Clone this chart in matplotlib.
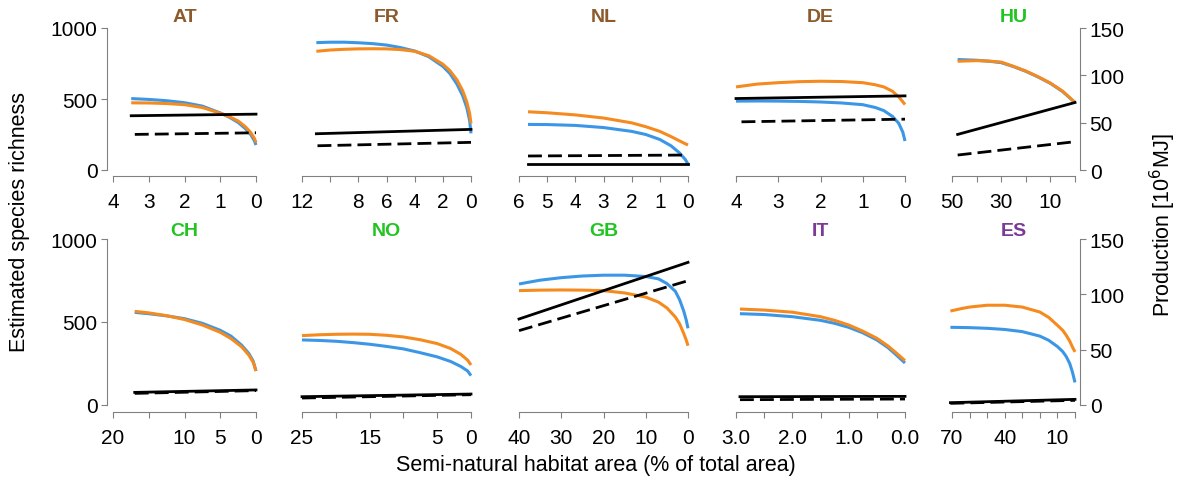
import matplotlib
matplotlib.use('Agg')
import matplotlib.pyplot as plt

plt.rcParams['font.family'] = ['Liberation Sans', 'DejaVu Sans']

# species richness curves (x = % semi-natural habitat, blue / orange) and production lines
countries = ['AT', 'FR', 'NL', 'DE', 'HU', 'CH', 'NO', 'GB', 'IT', 'ES']

AT_x = [3.49, 3.0, 2.5, 2.0, 1.5, 1.0, 0.75, 0.5, 0.3, 0.15, 0.05, 0.0]
AT_blue = [503, 497, 488, 474, 450, 402, 372, 335, 292, 250, 208, 176]
AT_orange = [473, 472, 468, 460, 440, 400, 376, 345, 305, 265, 225, 194]
AT_solid_x, AT_solid = [3.49, 0], [57.3, 59.0]
AT_dash_x, AT_dash = [3.39, 0], [37.6, 39.3]

FR_x = [10.98, 10, 9, 8, 7, 6, 5, 4, 3, 2, 1.5, 1, 0.6, 0.3, 0.1, 0]
FR_blue = [897, 900, 900, 896, 890, 880, 862, 838, 798, 730, 680, 605, 525, 440, 350, 258]
FR_orange = [836, 845, 850, 853, 854, 853, 848, 836, 805, 745, 700, 635, 560, 480, 400, 328]
FR_solid_x, FR_solid = [10.98, 0], [38.3, 42.9]
FR_dash_x, FR_dash = [10.9, 0], [25.6, 29.2]

NL_x = [5.68, 5, 4, 3, 2, 1.5, 1, 0.6, 0.3, 0.1, 0]
NL_blue = [321, 320, 314, 299, 272, 250, 215, 170, 120, 75, 42]
NL_orange = [410, 403, 388, 366, 332, 305, 272, 235, 205, 185, 176]
NL_solid_x, NL_solid = [5.68, 0], [6.3, 6.3]
NL_dash_x, NL_dash = [5.68, 0], [14.8, 15.8]

DE_x = [4.0, 3.5, 3.0, 2.5, 2.0, 1.5, 1.0, 0.7, 0.5, 0.3, 0.15, 0.05, 0]
DE_blue = [485, 486, 485, 483, 479, 472, 460, 440, 418, 378, 330, 265, 204]
DE_orange = [585, 605, 615, 622, 625, 623, 615, 600, 585, 555, 515, 480, 461]
DE_solid_x, DE_solid = [4.0, 0], [75.5, 78.3]
DE_dash_x, DE_dash = [3.87, 0], [50.9, 53.7]

HU_x = [47.7, 40, 35, 30, 25, 20, 15, 10, 5, 0]
HU_blue = [778, 773, 766, 756, 728, 695, 655, 610, 552, 475]
HU_orange = [766, 770, 767, 760, 730, 697, 657, 612, 555, 475]
HU_solid_x, HU_solid = [47.7, 0], [37.6, 71.3]
HU_dash_x, HU_dash = [47.7, 0], [15.8, 29.9]

CH_x = [16.96, 15, 12.5, 10, 7.5, 5, 3.5, 2, 1, 0.4, 0]
CH_blue = [558, 550, 537, 520, 492, 450, 415, 360, 310, 265, 205]
CH_orange = [564, 555, 538, 515, 482, 438, 400, 350, 300, 258, 205]
CH_solid_x, CH_solid = [16.96, 0], [11.4, 13.6]
CH_dash_x, CH_dash = [16.96, 0], [10.5, 13.0]

NO_x = [25, 22.5, 20, 17.5, 15, 12.5, 10, 7.5, 5, 3, 1.5, 0.5, 0]
NO_blue = [392, 389, 384, 376, 366, 353, 338, 315, 290, 262, 232, 205, 177]
NO_orange = [418, 423, 426, 427, 426, 420, 410, 393, 370, 340, 305, 270, 241]
NO_solid_x, NO_solid = [25, 0], [7.5, 9.9]
NO_dash_x, NO_dash = [25, 0], [6.3, 9.3]

GB_x = [40, 35, 30, 25, 20, 15, 10, 7, 5, 3, 2, 1, 0.4, 0]
GB_blue = [729, 752, 767, 777, 782, 782, 774, 760, 732, 685, 635, 565, 510, 462]
GB_orange = [689, 692, 693, 692, 689, 675, 650, 620, 585, 530, 490, 430, 390, 357]
GB_solid_x, GB_solid = [40, 0], [77.7, 128.9]
GB_dash_x, GB_dash = [40, 0], [67.2, 112.3]

IT_x = [2.93, 2.5, 2.0, 1.5, 1.25, 1.0, 0.75, 0.5, 0.3, 0.15, 0]
IT_blue = [550, 545, 532, 510, 492, 468, 435, 392, 345, 300, 253]
IT_orange = [578, 572, 559, 532, 510, 482, 445, 402, 355, 312, 267]
IT_solid_x, IT_solid = [2.93, 0], [7.5, 7.8]
IT_dash_x, IT_dash = [2.93, 0], [4.8, 5.4]

ES_x = [70.9, 65, 60, 50, 40, 30, 20, 15, 10, 7, 5, 3, 1.5, 0]
ES_blue = [468, 467, 466, 462, 455, 442, 415, 390, 352, 322, 292, 250, 200, 136]
ES_orange = [566, 580, 590, 601, 601, 590, 560, 528, 480, 450, 420, 385, 350, 320]
ES_solid_x, ES_solid = [70.9, 0], [2.1, 5.1]
ES_dash_x, ES_dash = [70.9, 0], [1.5, 4.2]

# x axis ticks and labels ('' = unlabelled tick)
x_ticks = {
    'AT': ([4, 3, 2, 1, 0], ['4', '3', '2', '1', '0']),
    'FR': ([12, 10, 8, 6, 4, 2, 0], ['12', '', '8', '6', '4', '2', '0']),
    'NL': ([6, 5, 4, 3, 2, 1, 0], ['6', '5', '4', '3', '2', '1', '0']),
    'DE': ([4, 3, 2, 1, 0], ['4', '3', '2', '1', '0']),
    'HU': ([50, 40, 30, 20, 10, 0], ['50', '', '30', '', '10', '']),
    'CH': ([20, 15, 10, 5, 0], ['20', '', '10', '5', '0']),
    'NO': ([25, 20, 15, 10, 5, 0], ['25', '', '15', '', '5', '0']),
    'GB': ([40, 30, 20, 10, 0], ['40', '30', '20', '10', '0']),
    'IT': ([3.0, 2.5, 2.0, 1.5, 1.0, 0.5, 0.0], ['3.0', '', '2.0', '', '1.0', '', '0.0']),
    'ES': ([70, 60, 50, 40, 30, 20, 10, 0], ['70', '', '', '40', '', '', '10', '']),
}

brown, green, purple = '#8c5a2c', '#22c422', '#7b3a96'
title_col = {'AT': brown, 'FR': brown, 'NL': brown, 'DE': brown, 'HU': green,
             'CH': green, 'NO': green, 'GB': green, 'IT': purple, 'ES': purple}
blue, orange = '#3b97e6', '#f58a1f'
gray = '#808080'

W, H = 1179, 481
fig = plt.figure(figsize=(W / 100, H / 100), dpi=100)

# pixel positions of first/last tick in each column and 1000/0 in each row
col_xa = [113, 302, 519, 736, 952]
col_xb = [256, 471, 688, 905, 1075]
row_top = [29, 240]
row_zero = [171, 406]

g = globals()
for i, c in enumerate(countries):
    r, k = divmod(i, 5)
    xa, xb = col_xa[k], col_xb[k]
    yt, y0 = row_top[r], row_zero[r]
    px, py = 0.04 * (xb - xa), 0.04 * (y0 - yt)
    ax = fig.add_axes([(xa - px) / W, 1 - (y0 + py) / H,
                       (xb - xa) * 1.08 / W, (y0 - yt) * 1.08 / H])
    ticks, labels = x_ticks[c]
    xmax = ticks[0]
    ax.set_xlim(xmax * 1.04, -0.04 * xmax)
    ax.set_ylim(-40, 1040)
    ax.plot(g[c + '_x'], g[c + '_blue'], color=blue, lw=2.2, solid_capstyle='butt')
    ax.plot(g[c + '_x'], g[c + '_orange'], color=orange, lw=2.2, solid_capstyle='butt')

    ax2 = ax.twinx()
    ax2.set_ylim(-6, 156)
    ax2.plot(g[c + '_solid_x'], g[c + '_solid'], color='black', lw=2)
    ax2.plot(g[c + '_dash_x'], g[c + '_dash'], color='black', lw=2, dashes=(5, 2.2))

    for a in (ax, ax2):
        a.patch.set_visible(False)
        for s in a.spines.values():
            s.set_visible(False)
            s.set_color(gray)
    ax.spines['bottom'].set_visible(True)
    ax.spines['bottom'].set_bounds(0, xmax)
    ax.set_xticks(ticks)
    ax.set_xticklabels(labels)
    ax.tick_params(axis='x', length=4, color=gray, labelsize=15, pad=8)
    if k == 0:
        ax.spines['left'].set_visible(True)
        ax.spines['left'].set_bounds(0, 1000)
        ax.set_yticks([0, 500, 1000])
        ax.tick_params(axis='y', length=4, color=gray, labelsize=15, pad=3)
    else:
        ax.set_yticks([])
    if k == 4:
        ax2.spines['right'].set_visible(True)
        ax2.spines['right'].set_bounds(0, 150)
        ax2.set_yticks([0, 50, 100, 150])
        ax2.tick_params(axis='y', length=4, color=gray, labelsize=15, pad=3)
    else:
        ax2.set_yticks([])

    cx = ((xa - px) + (xb + px)) / 2
    ty = 18 if r == 0 else 231
    fig.text(cx / W, 1 - ty / H, c, color=title_col[c], fontsize=14,
             fontweight='bold', ha='center', va='center')

fig.text(596 / W, 1 - 466 / H, 'Semi-natural habitat area (% of total area)',
         fontsize=15.5, ha='center', va='center')
fig.text(20 / W, 1 - 222 / H, 'Estimated species richness', fontsize=15.5,
         rotation=90, ha='center', va='center')
fig.text(1163 / W, 1 - 225 / H, 'Production [10$^6$MJ]', fontsize=15.5,
         rotation=90, ha='center', va='center')

fig.savefig('out.png', dpi=100)
